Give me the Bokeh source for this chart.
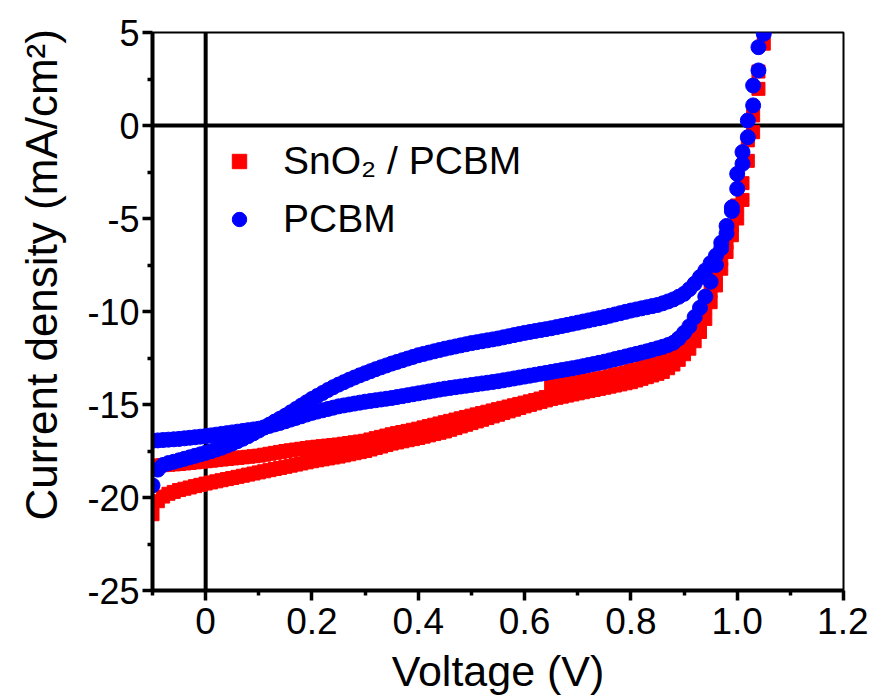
from bokeh.plotting import figure
from bokeh.models import Span, Legend, LegendItem, FixedTicker
from bokeh.embed import file_html
from bokeh.resources import INLINE

voltage = [
    -0.10, -0.09, -0.08, -0.07, -0.06, -0.05, -0.04, -0.03, -0.02, -0.01,
    0.00, 0.01, 0.02, 0.03, 0.04, 0.05, 0.06, 0.07, 0.08, 0.09,
    0.10, 0.11, 0.12, 0.13, 0.14, 0.15, 0.16, 0.17, 0.18, 0.19,
    0.20, 0.21, 0.22, 0.23, 0.24, 0.25, 0.26, 0.27, 0.28, 0.29,
    0.30, 0.31, 0.32, 0.33, 0.34, 0.35, 0.36, 0.37, 0.38, 0.39,
    0.40, 0.41, 0.42, 0.43, 0.44, 0.45, 0.46, 0.47, 0.48, 0.49,
    0.50, 0.51, 0.52, 0.53, 0.54, 0.55, 0.56, 0.57, 0.58, 0.59,
    0.60, 0.61, 0.62, 0.63, 0.64, 0.65, 0.66, 0.67, 0.68, 0.69,
    0.70, 0.71, 0.72, 0.73, 0.74, 0.75, 0.76, 0.77, 0.78, 0.79,
    0.80, 0.81, 0.82, 0.83, 0.84, 0.85, 0.86, 0.87, 0.88, 0.89,
    0.90, 0.91, 0.92, 0.93, 0.94, 0.95, 0.96, 0.97, 0.98, 0.99,
    1.00, 1.01, 1.02, 1.03, 1.04, 1.05,
]

# SnO2 / PCBM, scan A (lower branch)
sno2_scan_a = [
    -20.90, -20.20, -19.95, -19.80, -19.70, -19.60, -19.53, -19.46, -19.39, -19.32,
    -19.25, -19.19, -19.13, -19.07, -19.01, -18.95, -18.89, -18.83, -18.77, -18.71,
    -18.65, -18.59, -18.53, -18.47, -18.41, -18.35, -18.29, -18.23, -18.17, -18.11,
    -18.05, -18.00, -17.95, -17.90, -17.85, -17.80, -17.74, -17.68, -17.62, -17.56,
    -17.50, -17.42, -17.34, -17.26, -17.18, -17.10, -17.04, -16.98, -16.92, -16.86,
    -16.80, -16.73, -16.66, -16.59, -16.52, -16.45, -16.36, -16.27, -16.18, -16.09,
    -16.00, -15.91, -15.82, -15.73, -15.64, -15.55, -15.46, -15.37, -15.28, -15.19,
    -15.10, -15.02, -14.94, -14.86, -14.78, -14.70, -14.64, -14.58, -14.52, -14.46,
    -14.40, -14.34, -14.28, -14.22, -14.16, -14.10, -14.04, -13.98, -13.92, -13.86,
    -13.80, -13.71, -13.62, -13.53, -13.44, -13.35, -13.25, -13.05, -12.85, -12.60,
    -12.30, -12.00, -11.60, -11.10, -10.40, -9.50, -8.60, -7.70, -6.80, -5.90,
    -5.00, -4.00, -1.90, -0.36, 1.97, 4.40,
]

# SnO2 / PCBM, scan B (upper branch)
sno2_scan_b = [
    -18.30, -18.28, -18.26, -18.24, -18.22, -18.20, -18.17, -18.14, -18.11, -18.08,
    -18.05, -18.02, -17.99, -17.96, -17.93, -17.90, -17.87, -17.84, -17.81, -17.78,
    -17.75, -17.70, -17.65, -17.60, -17.55, -17.50, -17.46, -17.42, -17.38, -17.34,
    -17.30, -17.27, -17.24, -17.21, -17.18, -17.15, -17.11, -17.07, -17.03, -16.99,
    -16.95, -16.88, -16.81, -16.74, -16.67, -16.60, -16.54, -16.48, -16.42, -16.36,
    -16.30, -16.23, -16.16, -16.09, -16.02, -15.95, -15.88, -15.81, -15.74, -15.67,
    -15.60, -15.53, -15.46, -15.39, -15.32, -15.25, -15.18, -15.11, -15.04, -14.97,
    -14.90, -14.83, -14.76, -14.68, -14.60, -14.00, -13.98, -13.94, -13.90, -13.85,
    -13.80, -13.75, -13.70, -13.65, -13.60, -13.55, -13.48, -13.41, -13.34, -13.27,
    -13.20, -13.12, -13.04, -12.96, -12.88, -12.80, -12.70, -12.55, -12.35, -12.10,
    -11.80, -11.40, -10.90, -10.40, -9.70, -8.90, -8.00, -7.20, -6.30, -5.40,
    -4.30, -3.10, -0.80, 0.54, 2.90, 5.50,
]

# PCBM, scan A (steep branch)
pcbm_scan_a = [
    -19.35, -18.50, -18.25, -18.15, -18.08, -18.00, -17.92, -17.84, -17.76, -17.68,
    -17.60, -17.51, -17.42, -17.32, -17.21, -17.10, -16.97, -16.84, -16.70, -16.55,
    -16.40, -16.24, -16.08, -15.92, -15.76, -15.60, -15.42, -15.24, -15.06, -14.88,
    -14.70, -14.54, -14.38, -14.22, -14.07, -13.93, -13.80, -13.67, -13.55, -13.43,
    -13.32, -13.21, -13.10, -13.00, -12.90, -12.80, -12.71, -12.62, -12.53, -12.44,
    -12.35, -12.28, -12.21, -12.14, -12.07, -12.00, -11.94, -11.88, -11.82, -11.76,
    -11.70, -11.65, -11.60, -11.55, -11.50, -11.45, -11.39, -11.33, -11.27, -11.21,
    -11.15, -11.10, -11.05, -11.00, -10.95, -10.90, -10.84, -10.78, -10.72, -10.66,
    -10.60, -10.54, -10.48, -10.42, -10.36, -10.30, -10.23, -10.16, -10.09, -10.02,
    -9.95, -9.89, -9.83, -9.77, -9.71, -9.65, -9.56, -9.46, -9.35, -9.21,
    -9.05, -8.80, -8.50, -8.15, -7.80, -7.40, -7.00, -6.30, -5.40, -4.40,
    -2.60, -1.43, 0.27, 2.15, 4.21, 6.20,
]

# PCBM, scan B (flat branch)
pcbm_scan_b = [
    -16.95, -16.93, -16.91, -16.89, -16.87, -16.85, -16.82, -16.79, -16.76, -16.73,
    -16.70, -16.66, -16.62, -16.58, -16.54, -16.50, -16.46, -16.42, -16.38, -16.34,
    -16.30, -16.23, -16.15, -16.07, -15.99, -15.90, -15.81, -15.72, -15.63, -15.54,
    -15.45, -15.38, -15.31, -15.24, -15.17, -15.10, -15.05, -15.00, -14.95, -14.90,
    -14.85, -14.81, -14.77, -14.73, -14.69, -14.65, -14.60, -14.55, -14.50, -14.45,
    -14.40, -14.35, -14.30, -14.25, -14.20, -14.15, -14.11, -14.07, -14.03, -13.99,
    -13.95, -13.91, -13.87, -13.83, -13.79, -13.75, -13.70, -13.65, -13.60, -13.55,
    -13.50, -13.45, -13.40, -13.35, -13.30, -13.25, -13.20, -13.15, -13.10, -13.05,
    -13.00, -12.94, -12.88, -12.82, -12.76, -12.70, -12.63, -12.56, -12.49, -12.42,
    -12.35, -12.28, -12.21, -12.14, -12.06, -11.98, -11.90, -11.80, -11.68, -11.45,
    -11.15, -10.80, -10.30, -9.80, -9.20, -8.40, -7.50, -6.60, -5.80, -4.60,
    -3.40, -2.06, -0.63, 1.08, 2.96, 4.93,
]

series_labels = ["SnO\u2082 / PCBM", "PCBM"]
x_title = "Voltage (V)"
y_title = "Current density (mA/cm\u00b2)"

x_ticks = [0, 0.2, 0.4, 0.6, 0.8, 1.0, 1.2]
x_tick_labels = ["0", "0.2", "0.4", "0.6", "0.8", "1.0", "1.2"]
x_minor_ticks = [-0.1, 0.1, 0.3, 0.5, 0.7, 0.9, 1.1]
y_ticks = [-25, -20, -15, -10, -5, 0, 5]
y_tick_labels = ["-25", "-20", "-15", "-10", "-5", "0", "5"]
y_minor_ticks = [-22.5, -17.5, -12.5, -7.5, -2.5, 2.5]

FONT = "Liberation Sans"
RED = "#ff0000"
BLUE = "#0000ff"

p = figure(
    width=868, height=697,
    x_range=(-0.1, 1.2), y_range=(-25, 5),
    output_backend="svg", toolbar_location=None,
    min_border_left=152, min_border_right=25,
    min_border_top=32, min_border_bottom=107,
)
p.background_fill_color = "white"
p.border_fill_color = "white"
p.outline_line_color = "black"
p.outline_line_width = 2
p.grid.visible = False

for ax in (p.xaxis[0], p.yaxis[0]):
    ax.axis_line_color = "black"
    ax.axis_line_width = 4
    ax.major_tick_line_color = "black"
    ax.major_tick_line_width = 3.5
    ax.minor_tick_line_color = "black"
    ax.minor_tick_line_width = 3.5
    ax.major_tick_in = 0
    ax.major_tick_out = 10
    ax.minor_tick_in = 0
    ax.minor_tick_out = 5
    ax.major_label_text_font = FONT
    ax.major_label_text_color = "black"
    ax.axis_label_text_font = FONT
    ax.axis_label_text_font_style = "normal"
    ax.axis_label_text_color = "black"

p.xaxis.ticker = FixedTicker(ticks=x_ticks, minor_ticks=x_minor_ticks)
p.xaxis.major_label_overrides = dict(zip(x_ticks, x_tick_labels))
p.xaxis.major_label_text_font_size = "37px"
p.xaxis.major_label_standoff = 7
p.xaxis.axis_label = x_title
p.xaxis.axis_label_text_font_size = "43px"
p.xaxis.axis_label_standoff = 10

p.yaxis.ticker = FixedTicker(ticks=y_ticks, minor_ticks=y_minor_ticks)
p.yaxis.major_label_overrides = dict(zip(y_ticks, y_tick_labels))
p.yaxis.major_label_text_font_size = "36px"
p.yaxis.major_label_standoff = 3
# leading no-break spaces move the centred title toward the top of the axis
p.yaxis.axis_label = "\u00a0" * 6 + y_title
p.yaxis.axis_label_text_font_size = "44px"
p.yaxis.axis_label_standoff = 18

p.add_layout(Span(location=0, dimension="width", line_color="black",
                  line_width=4, level="underlay"))
p.add_layout(Span(location=0, dimension="height", line_color="black",
                  line_width=4, level="underlay"))

r_red_a = p.scatter(voltage, sno2_scan_a, marker="square", size=13,
                    fill_color=RED, line_color=RED)
r_red_b = p.scatter(voltage, sno2_scan_b, marker="square", size=13,
                    fill_color=RED, line_color=RED)
r_blue_a = p.scatter(voltage, pcbm_scan_a, marker="circle", size=15,
                     fill_color=BLUE, line_color=BLUE)
r_blue_b = p.scatter(voltage, pcbm_scan_b, marker="circle", size=15,
                     fill_color=BLUE, line_color=BLUE)

legend = Legend(
    items=[LegendItem(label=series_labels[0], renderers=[r_red_a]),
           LegendItem(label=series_labels[1], renderers=[r_blue_a])],
    location=(69, 349),
    border_line_color=None, background_fill_alpha=0,
    padding=0, margin=0, spacing=14,
    glyph_width=36, glyph_height=36, label_standoff=26,
    label_text_font=FONT, label_text_font_size="39px",
    label_text_color="black",
)
p.add_layout(legend)

open("out.html", "w").write(file_html(p, INLINE))
